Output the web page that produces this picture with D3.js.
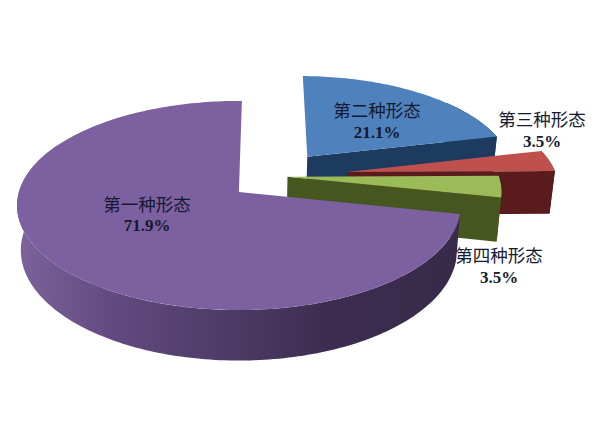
<!DOCTYPE html>
<html><head><meta charset="utf-8">
<script src="https://cdn.jsdelivr.net/npm/d3@7"></script>
<style>html,body{margin:0;background:#fff}svg{display:block}</style></head>
<body><svg id="c" width="600" height="448"></svg>
<script>
const categories = ["第一种形态","第二种形态","第三种形态","第四种形态"];
const values = [71.9,21.1,3.5,3.5];

const topColors=["#7d609f","#4f81bd","#c0504d","#9bbb59"];
const sideColors=["url(#purpleWall)","#1d3a5f","#5a1b1c","#46561f"];
// explode offsets in unit-disc coordinates (sideways, away from viewer) and slice radii
const explode=[[-0.005,0],[0.32,0.36],[0.50,0.20],[0.22,0.15]];
const radii=[1,0.96,0.97,0.98];
// fraction of each slice's rim (from its start) hidden from the viewer / kept for the wall
const wallFrom=[0,0.65,0,0];
const wallTo=[0.76,1,1,1];
const labelPos=[[147,203,225],[377,109,132],[542,118,141],[499,254,277]];

const cx=240,cy=192,R=220,S=102.8,K=0.129,depth=44,taper=0.983;
const rad=Math.PI/180;
const px=d3.scaleLinear().domain([0,1]).range([cx,cx+R]);
const py=d3.scaleLinear().domain([0,1]).range([cy,cy-S]);

function project(u,v,down){
  const w=1+K*v;
  let x=px(u/w), y=py(v/w);
  if(down){ x=cx+(x-cx)*taper; y+=depth/w; }
  return [x,y];
}
const start=102*rad;
const pie=d3.pie().sort(null).value(d=>d).startAngle(start).endAngle(start+2*Math.PI);
const arcs=pie(values);
const line=d3.line();
const pt=(i,r,a,down)=>project(explode[i][0]+r*radii[i]*Math.sin(a),explode[i][1]+r*radii[i]*Math.cos(a),down);
function arcPts(i,a0,a1,down){
  const n=Math.max(4,Math.ceil((a1-a0)/0.02));
  return d3.range(n+1).map(k=>pt(i,1,a0+(a1-a0)*k/n,down));
}
const svg=d3.select("#c");
const defs=svg.append("defs");
const g=defs.append("linearGradient").attr("id","purpleWall").attr("gradientUnits","userSpaceOnUse")
  .attr("x1",17).attr("x2",460).attr("y1",0).attr("y2",0);
[[0,"#7c639b"],[0.22,"#62497f"],[0.45,"#4f3d68"],[0.7,"#3c2d50"],[1,"#372a4a"]]
  .forEach(s=>g.append("stop").attr("offset",s[0]).attr("stop-color",s[1]));

const chart=svg.append("g");
// painter's order: far slices first
[1,2,3,0].forEach(i=>{
  const a=arcs[i],a0=a.startAngle,a1=a.endAngle,side=sideColors[i];
  const sl=chart.append("g").attr("class","slice");
  const span=a1-a0, w0=a0+span*wallFrom[i], w1=a0+span*wallTo[i];
  const outerTop=arcPts(i,w0,w1,false), outerBot=arcPts(i,w0,w1,true);
  sl.append("path").attr("fill",side).attr("d",line(outerTop.concat(outerBot.reverse()))+"Z");
  if(i!==0){
    // the clockwise cut face looks toward the viewer
    sl.append("path").attr("fill",side).attr("d",line([
      pt(i,0,a1,false),pt(i,1,a1,false),pt(i,1,a1,true),pt(i,0,a1,true)])+"Z");
  }
  sl.append("path").attr("fill",topColors[i])
    .attr("d",line([pt(i,0,a0,false)].concat(arcPts(i,a0,a1,false)))+"Z");
});

categories.forEach((c,i)=>{
  const [x,y1,y2]=labelPos[i];
  svg.append("text").attr("x",x).attr("y",y1).attr("text-anchor","middle")
    .attr("dominant-baseline","central")
    .attr("font-family","'Noto Sans CJK SC'").attr("font-size",17.5).attr("fill","#141a30").text(c);
  svg.append("text").attr("x",x).attr("y",y2).attr("text-anchor","middle")
    .attr("dominant-baseline","central")
    .attr("font-family","'Liberation Serif'").attr("font-weight","bold").attr("font-size",17).attr("fill","#141a30").text(values[i]+"%");
});
</script></body></html>
